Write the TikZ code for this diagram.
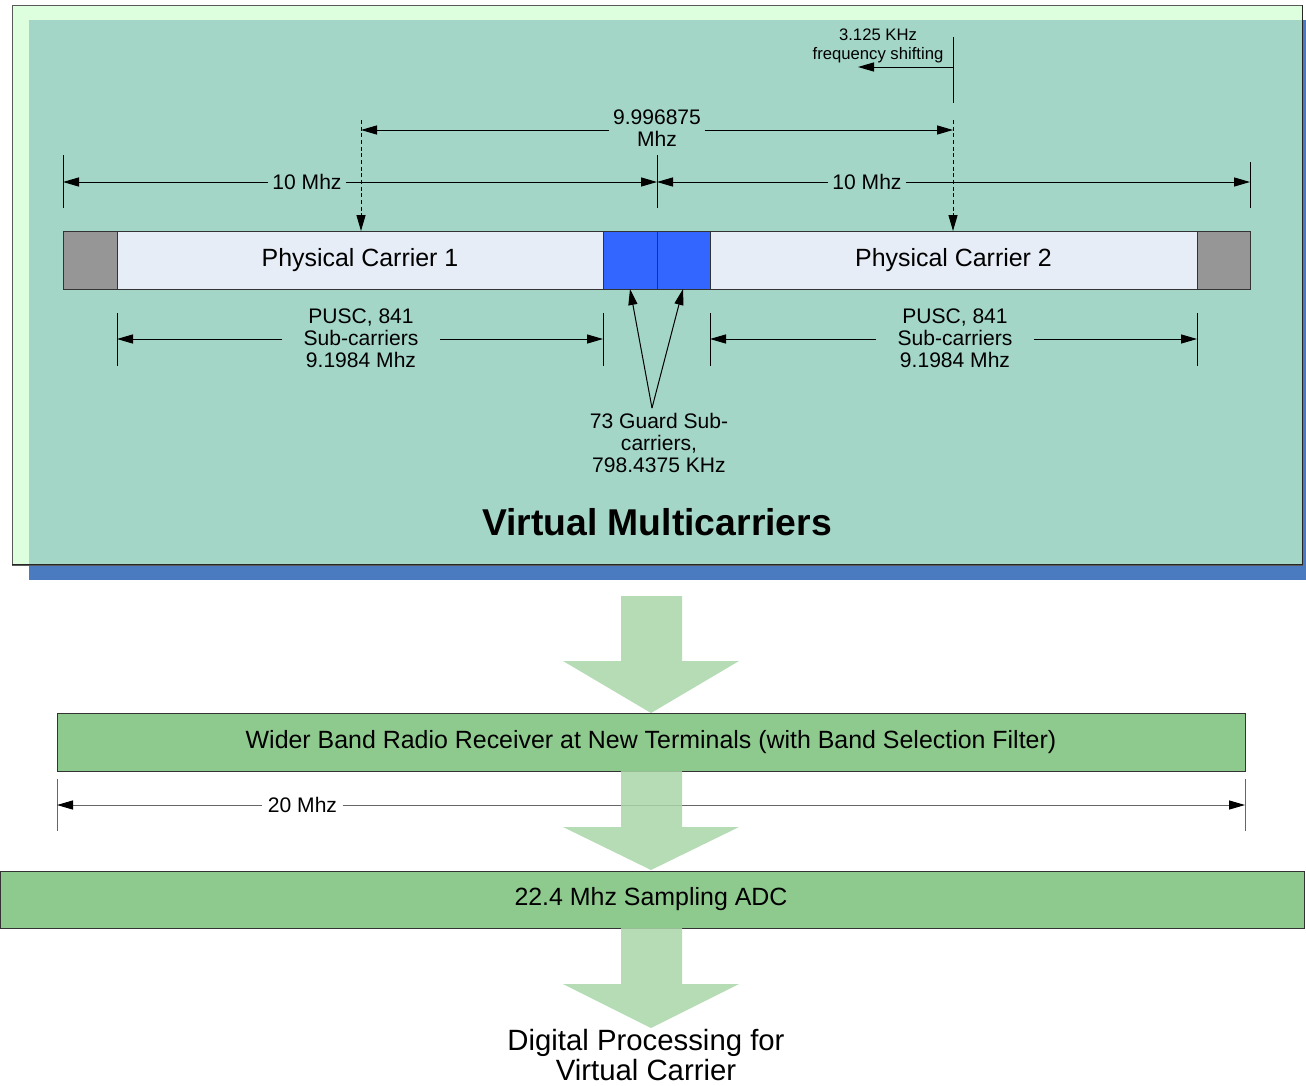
\documentclass[tikz,border=0pt]{standalone}
\usepackage{fontspec}
\setmainfont{Liberation Sans}
\usetikzlibrary{arrows.meta}
\definecolor{outerg}{RGB}{221,255,221}
\definecolor{tealbg}{RGB}{164,214,200}
\definecolor{shadowb}{RGB}{74,123,192}
\definecolor{pcfill}{RGB}{231,237,247}
\definecolor{grayblk}{RGB}{150,150,150}
\definecolor{guardb}{RGB}{51,102,255}
\definecolor{boxg}{RGB}{142,201,142}
\definecolor{arrg}{RGB}{168,214,168}
\begin{document}
\begin{tikzpicture}[x=0.75pt,y=-0.75pt,
  tipa/.style={-{Triangle[length=12pt,width=6.8pt,color=black]}},
  dim/.style={line width=0.75pt,tipa},
  tickl/.style={line width=0.75pt},
  dashl/.style={line width=0.75pt,dash pattern=on 3pt off 2pt,tipa},
  lbl/.style={font=\fontsize{15.8}{16.5}\selectfont,align=center,inner ysep=0pt,inner xsep=3pt},
  smalllbl/.style={font=\fontsize{12.5}{14.25}\selectfont,align=center,inner sep=0pt},
  biglbl/.style={font=\fontsize{18.7}{22}\selectfont,align=center,inner sep=0pt},
  titlelbl/.style={font=\fontsize{28}{33}\selectfont\bfseries,inner sep=0pt},
  endlbl/.style={font=\fontsize{22}{22.5}\selectfont,align=center,inner sep=0pt},
  seg/.style={draw=black!80,line width=0.75pt},
  bigarrow/.style={fill=arrg,opacity=0.85},
  greenbox/.style={fill=boxg,draw=black!80,line width=0.75pt}
]
\useasboundingbox (0,0) rectangle (1306,1085);

% ---------- background panel ----------
\fill[shadowb] (29,20) rectangle (1306,580);
\filldraw[fill=outerg,draw=black!65,line width=0.75pt] (12,5) rectangle (1302,565);
\fill[tealbg] (29,20) rectangle (1302,564);
\draw[line width=1pt,black!85] (12,564.5) -- (1302.5,564.5) -- (1302.5,5);

% ---------- carrier bar ----------
\path[seg,fill=grayblk] (63,231) rectangle (117,289);
\path[seg,fill=pcfill] (117,231) rectangle (603,289);
\path[seg,fill=guardb] (603,231) rectangle (657,289);
\path[seg,fill=guardb] (657,231) rectangle (710,289);
\path[seg,fill=pcfill] (710,231) rectangle (1197,289);
\path[seg,fill=grayblk] (1197,231) rectangle (1250,289);
\node[biglbl] (pc1) at (360,260) {Physical Carrier 1};
\node[biglbl] (pc2) at (953.5,260) {Physical Carrier 2};

% ---------- 10 Mhz dimensions ----------
\coordinate (tkLa) at (63,155);  \coordinate (tkLb) at (63,208);
\coordinate (tkMa) at (657,155); \coordinate (tkMb) at (657,208);
\coordinate (tkRa) at (1250,162); \coordinate (tkRb) at (1250,208);
\draw[tickl] (tkLa) -- (tkLb);
\draw[tickl] (tkMa) -- (tkMb);
\draw[tickl] (tkRa) -- (tkRb);
\coordinate (pL) at (63,182); \coordinate (pM) at (657,182); \coordinate (pR) at (1250,182);
\node[lbl] (L10a) at (307,182) {10 Mhz};
\node[lbl] (L10b) at (867,182) {10 Mhz};
\draw[dim] (L10a.west) -- (pL);
\draw[dim] (L10a.east) -- (pM);
\draw[dim] (L10b.west) -- (pM);
\draw[dim] (L10b.east) -- (pR);

% ---------- 9.996875 Mhz ----------
\coordinate (a99L) at (361,130); \coordinate (a99R) at (953,130);
\node[lbl,inner xsep=2.5pt] (L99) at (657,128) {9.996875\\Mhz};
\draw[dim] (L99.west |- a99L) -- (a99L);
\draw[dim] (L99.east |- a99R) -- (a99R);
\coordinate (dLa) at (361,120); \coordinate (dLb) at (361,231);
\coordinate (dRa) at (953,120); \coordinate (dRb) at (953,231);
\draw[dashl] (dLa) -- (dLb);
\draw[dashl] (dRa) -- (dRb);

% ---------- 3.125 KHz shift ----------
\coordinate (sA) at (953,37); \coordinate (sB) at (953,103);
\draw[tickl] (sA) -- (sB);
\coordinate (sS) at (953,67); \coordinate (sT) at (858,67);
\draw[dim] (sS) -- (sT);
\node[smalllbl] (Lshift) at (878,46) {3.125 KHz\\frequency shifting};

% ---------- PUSC dimensions ----------
\coordinate (u1a) at (117,313); \coordinate (u1b) at (117,366);
\coordinate (u2a) at (603,313); \coordinate (u2b) at (603,366);
\coordinate (u3a) at (710,313); \coordinate (u3b) at (710,366);
\coordinate (u4a) at (1197,313); \coordinate (u4b) at (1197,366);
\draw[tickl] (u1a) -- (u1b);
\draw[tickl] (u2a) -- (u2b);
\draw[tickl] (u3a) -- (u3b);
\draw[tickl] (u4a) -- (u4b);
\coordinate (q1) at (117,339); \coordinate (q2) at (603,339);
\coordinate (q3) at (710,339); \coordinate (q4) at (1197,339);
\node[lbl,inner xsep=16pt] (LP1) at (361,338) {PUSC, 841\\Sub-carriers\\9.1984 Mhz};
\node[lbl,inner xsep=16pt] (LP2) at (955,338) {PUSC, 841\\Sub-carriers\\9.1984 Mhz};
\draw[dim] (LP1.west |- q1) -- (q1);
\draw[dim] (LP1.east |- q2) -- (q2);
\draw[dim] (LP2.west |- q3) -- (q3);
\draw[dim] (LP2.east |- q4) -- (q4);

% ---------- guard sub-carriers ----------
\coordinate (gapex) at (652,408);
\coordinate (gb1) at (630,289); \coordinate (gb2) at (683,289);
\draw[dim] (gapex) -- (gb1);
\draw[dim] (gapex) -- (gb2);
\node[lbl] (Lguard) at (659,443) {73 Guard Sub-\\carriers,\\798.4375 KHz};

% ---------- title ----------
\node[titlelbl] (title) at (657,522) {Virtual Multicarriers};

% ---------- lower chain ----------
\path[greenbox] (57,713) rectangle (1245,771);
\node[biglbl] (rx) at (651,742) {Wider Band Radio Receiver at New Terminals (with Band Selection Filter)};
\path[greenbox] (0.4,871) rectangle (1304,928);
\node[biglbl] (adc) at (651,899.5) {22.4 Mhz Sampling ADC};

% 20 Mhz
\coordinate (w1a) at (57,779); \coordinate (w1b) at (57,831);
\coordinate (w2a) at (1245,779); \coordinate (w2b) at (1245,831);
\draw[tickl,black!60] (w1a) -- (w1b);
\draw[tickl,black!60] (w2a) -- (w2b);
\coordinate (w1) at (57,805); \coordinate (w2) at (1245,805);
\node[lbl,inner xsep=4pt] (L20) at (302.5,805) {20 Mhz};
\draw[dim,black!60] (L20.west) -- (w1);
\draw[dim,black!60] (L20.east) -- (w2);

% big arrows
\fill[bigarrow] (621,596) -- (682,596) -- (682,661) -- (739,661) -- (651,713) -- (563,661) -- (621,661) -- cycle;
\fill[bigarrow] (621,771) -- (682,771) -- (682,827) -- (739,827) -- (651,870) -- (563,827) -- (621,827) -- cycle;
\fill[bigarrow] (621,928) -- (682,928) -- (682,984) -- (739,984) -- (651,1028) -- (563,984) -- (621,984) -- cycle;

\node[endlbl] (dig) at (646,1055) {Digital Processing for\\Virtual Carrier};
\end{tikzpicture}
\end{document}
